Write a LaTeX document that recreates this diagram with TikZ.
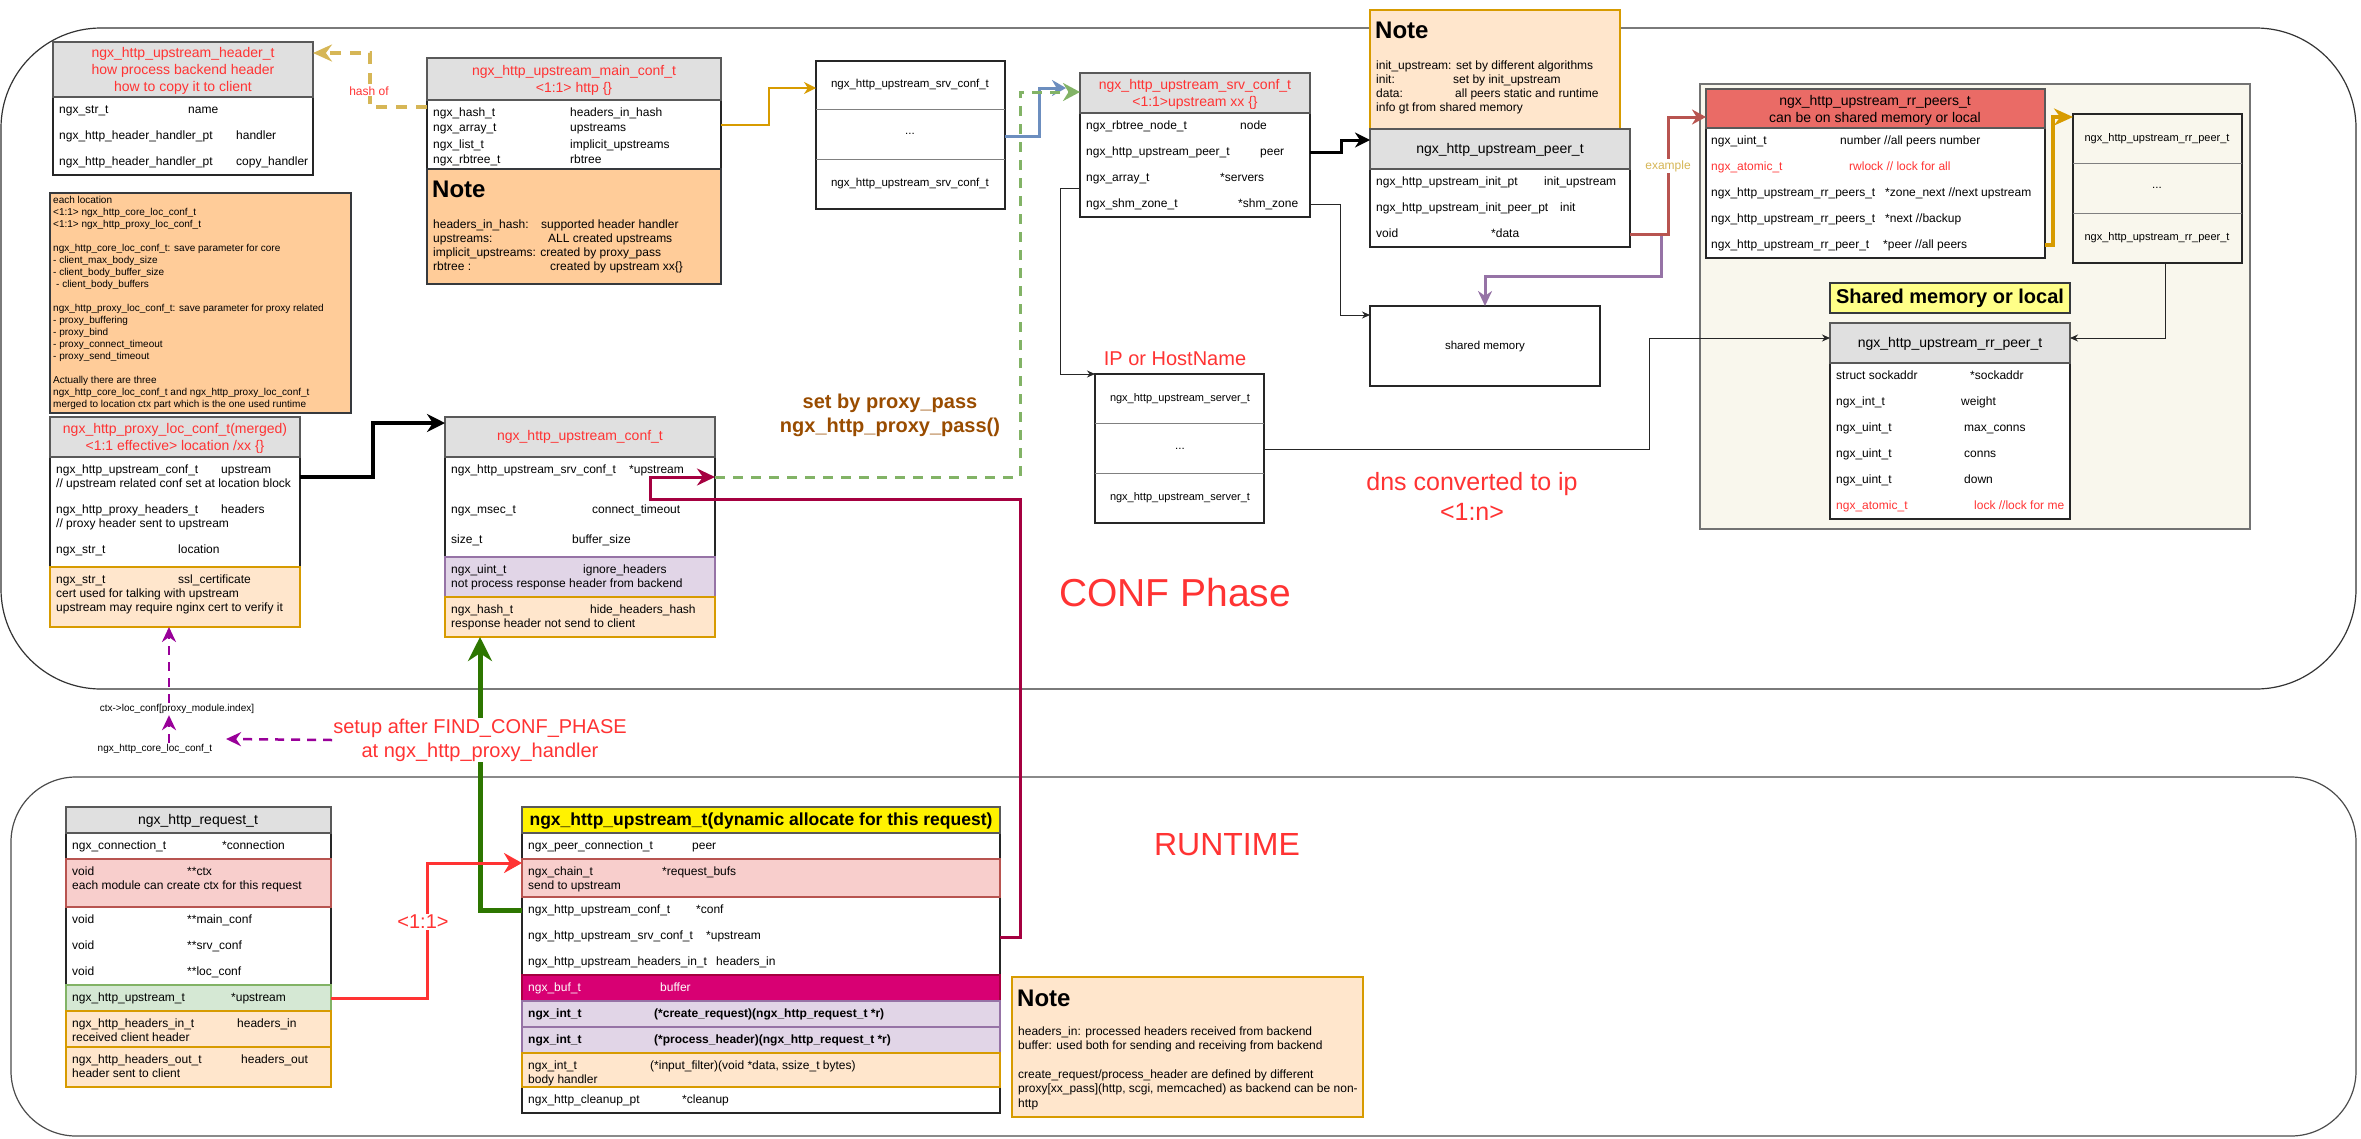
\documentclass[tikz,border=0pt]{standalone}
\usepackage{fontspec}
\setmainfont{Liberation Sans}
\usetikzlibrary{arrows.meta,calc}
\definecolor{cred}{HTML}{FF3333}
\definecolor{ttlgray}{HTML}{E0E0E0}
\definecolor{pinkf}{HTML}{F8CECC}
\definecolor{pinkd}{HTML}{B85450}
\definecolor{oranf}{HTML}{FFE6CC}
\definecolor{orand}{HTML}{D79B00}
\definecolor{purf}{HTML}{E1D5E7}
\definecolor{purd}{HTML}{9673A6}
\definecolor{grnf}{HTML}{D5E8D4}
\definecolor{grnd}{HTML}{82B366}
\definecolor{magf}{HTML}{D80073}
\definecolor{magd}{HTML}{A50040}
\definecolor{notef}{HTML}{FFCC99}
\definecolor{darkd}{HTML}{36393D}
\definecolor{rrred}{HTML}{EA6B66}
\definecolor{beige}{HTML}{F9F7ED}
\definecolor{lyel}{HTML}{FFFF88}
\definecolor{hashc}{HTML}{D6B656}
\definecolor{bluec}{HTML}{6C8EBF}
\definecolor{darkgrn}{HTML}{2D7600}
\definecolor{brownc}{HTML}{994C00}
\definecolor{pdc}{HTML}{990099}
\tikzset{
  bxs/.style={inner sep=0pt,outer sep=0pt,line width=1.3pt},
  wbox/.style={draw=black!85,fill=white},
  tbox/.style={draw=black!65,fill=ttlgray},
  pinks/.style={draw=pinkd,fill=pinkf},
  orans/.style={draw=orand,fill=oranf},
  purs/.style={draw=purd,fill=purf},
  grns/.style={draw=grnd,fill=grnf},
  mags/.style={draw=magd,fill=magf},
  notes/.style={draw=darkd,fill=notef},
  rt/.style={font=\fontsize{12}{14}\selectfont,inner sep=0pt,anchor=west,align=left,execute at begin node=\strut,execute at end node=\strut},
  rtb/.style={rt,font=\fontsize{12}{14}\selectfont\bfseries},
  ttxt/.style={font=\fontsize{14}{16.8}\selectfont,inner sep=0pt,align=center,text=cred},
  ltxt/.style={font=\fontsize{11.5}{14}\selectfont,inner sep=0pt,align=center},
  notehd/.style={font=\fontsize{24}{28}\selectfont\bfseries,inner sep=0pt,anchor=west},
  bigred/.style={font=\fontsize{20}{24}\selectfont,text=cred,inner sep=1pt,align=center},
  smalltxt/.style={font=\fontsize{10}{12}\selectfont,inner sep=0pt,execute at begin node=\strut},
  thinarr/.style={draw=black!85,line width=1pt,-{Stealth[length=8pt,width=7pt]}},
  goldA/.style={draw=orand,line width=2.5pt,-{Stealth[length=12pt,width=12pt]}},
  goldB/.style={draw=orand,line width=4pt,-{Stealth[length=19pt,width=17pt]}},
  hashA/.style={draw=hashc,line width=3.5pt,dash pattern=on 11pt off 9pt,-{Stealth[length=19pt,width=17pt]}},
  blueA/.style={draw=bluec,line width=3pt,-{Stealth[length=14pt,width=16pt]}},
  greenD/.style={draw=grnd,line width=3pt,dash pattern=on 10pt off 8pt,-{Stealth[length=17pt,width=18pt]}},
  blkA/.style={draw=black,line width=4pt,-{Stealth[length=18pt,width=18pt]}},
  blkB/.style={draw=black,line width=3pt,-{Stealth[length=15pt,width=15pt]}},
  crimA/.style={draw=magd,line width=3pt,-{Stealth[length=18pt,width=17pt]}},
  redA/.style={draw=cred,line width=3pt,-{Stealth[length=18pt,width=20pt]}},
  grnA/.style={draw=darkgrn,line width=5pt,-{Stealth[length=24pt,width=24pt]}},
  exA/.style={draw=pinkd,line width=3pt,-{Stealth[length=14pt,width=15pt]}},
  purA/.style={draw=purd,line width=3pt,-{Stealth[length=15pt,width=14pt]}},
  pdash/.style={draw=pdc,line width=2.5pt,dash pattern=on 9pt off 7pt,-{Stealth[length=15pt,width=14pt]}},
  sepl/.style={draw=black!50,line width=1pt}
}
\newcommand\bx[6]{%
  \pgfmathsetmacro\bxw{#4-#2}\pgfmathsetmacro\bxh{#5-#3}%
  \node[bxs,#6,minimum width=\bxw pt,minimum height=\bxh pt,anchor=north west] (#1) at (#2,#3) {};}
\newcommand\rw[7][]{\node[rt,#1] (#2) at (#3,#4) {\makebox[#5pt][l]{#6}#7};}
\newcommand\rwx[8][]{\node[rt,#1] (#2) at (#3,#4) {\makebox[#5pt][l]{#6}#7\\#8};}
\begin{document}
\begin{tikzpicture}[x=1pt,y=-1pt]
\useasboundingbox (0,0) rectangle (2361,1138);
% ---------- containers
\bx{conf}{1}{28}{2356}{689}{draw=black!80,line width=1.2pt,rounded corners=100pt}
\bx{runt}{11}{777}{2356}{1136}{draw=black!70,line width=1.2pt,rounded corners=65pt}
% ---------- header_t
\bx{hdr}{53}{42}{313}{175}{wbox}
\bx{hdrT}{53}{42}{313}{97}{tbox}
\node[ttxt] (hdrt) at (183,71) {ngx\_http\_upstream\_header\_t\\how process backend header\\how to copy it to client};
\rw{h1}{59}{111}{129}{ngx\_str\_t}{name}
\rw{h2}{59}{137}{177}{ngx\_http\_header\_handler\_pt}{handler}
\rw{h3}{59}{163}{177}{ngx\_http\_header\_handler\_pt}{copy\_handler}
% ---------- left note
\bx{lnote}{50}{193}{351}{413}{notes}
\node[rt,font=\fontsize{10}{12}\selectfont] (lnotet) at (53,304) {each location\\<1:1> ngx\_http\_core\_loc\_conf\_t\\<1:1> ngx\_http\_proxy\_loc\_conf\_t\\\mbox{}\\ngx\_http\_core\_loc\_conf\_t: save parameter for core\\- client\_max\_body\_size\\- client\_body\_buffer\_size\\\hspace*{3pt}- client\_body\_buffers\\\mbox{}\\ngx\_http\_proxy\_loc\_conf\_t: save parameter for proxy related\\- proxy\_buffering\\- proxy\_bind\\- proxy\_connect\_timeout\\- proxy\_send\_timeout\\\mbox{}\\Actually there are three\\ngx\_http\_core\_loc\_conf\_t and ngx\_http\_proxy\_loc\_conf\_t\\merged to location ctx part which is the one used runtime};
% ---------- proxy_loc_conf
\bx{plc}{50}{417}{300}{627}{wbox}
\bx{plcT}{50}{417}{300}{457}{tbox}
\bx{plcO}{50}{567}{300}{627}{orans}
\node[ttxt] (plct) at (175,438) {ngx\_http\_proxy\_loc\_conf\_t(merged)\\<1:1 effective> location /xx \{\}};
\rwx{pl1}{56}{478}{165}{ngx\_http\_upstream\_conf\_t}{upstream}{// upstream related conf set at location block}
\rwx{pl2}{56}{518}{165}{ngx\_http\_proxy\_headers\_t}{headers}{// proxy header sent to upstream}
\rw{pl3}{56}{551}{122}{ngx\_str\_t}{location}
\node[rt] (pl4) at (56,595) {\makebox[122pt][l]{ngx\_str\_t}ssl\_certificate\\cert used for talking with upstream\\upstream may require nginx cert to verify it};
% ---------- main_conf
\bx{mc}{427}{58}{721}{284}{wbox}
\bx{mcT}{427}{58}{721}{100}{tbox}
\bx{mcN}{427}{169}{721}{284}{notes}
\node[ttxt] (mct) at (574,80.5) {ngx\_http\_upstream\_main\_conf\_t\\<1:1> http \{\}};
\rw{m1}{433}{114}{137}{ngx\_hash\_t}{headers\_in\_hash}
\rw{m2}{433}{129}{137}{ngx\_array\_t}{upstreams}
\rw{m3}{433}{146}{137}{ngx\_list\_t}{implicit\_upstreams}
\rw{m4}{433}{161}{137}{ngx\_rbtree\_t}{rbtree}
\node[notehd] (mcnh) at (432,189) {Note};
\node[rt] (mcnt) at (433,247) {\makebox[108pt][l]{headers\_in\_hash:}supported header handler\\\makebox[115pt][l]{upstreams:}ALL created upstreams\\implicit\_upstreams: created by proxy\_pass\\\makebox[117pt][l]{rbtree :}created by upstream xx\{\}};
% ---------- srv conf list
\bx{srvl}{816}{61}{1005}{209}{wbox}
\draw[sepl] (srvl.west |- 0,109) -- (srvl.east |- 0,109);
\draw[sepl] (srvl.west |- 0,159) -- (srvl.east |- 0,159);
\node[ltxt] (sl1) at (910,85) {ngx\_http\_upstream\_srv\_conf\_t};
\node[ltxt] (sl2) at (910,134) {...};
\node[ltxt] (sl3) at (910,184) {ngx\_http\_upstream\_srv\_conf\_t};
% ---------- upstream_conf
\bx{upc}{445}{417}{715}{637}{wbox}
\bx{upcT}{445}{417}{715}{457}{tbox}
\bx{upcP}{445}{557}{715}{597}{purs}
\bx{upcO}{445}{597}{715}{637}{orans}
\node[ttxt] (upct) at (580,437) {ngx\_http\_upstream\_conf\_t};
\rw{u1}{451}{471}{178}{ngx\_http\_upstream\_srv\_conf\_t}{*upstream}
\rw{u2}{451}{511}{141}{ngx\_msec\_t}{connect\_timeout}
\rw{u3}{451}{541}{121}{size\_t}{buffer\_size}
\rwx{u4}{451}{578}{132}{ngx\_uint\_t}{ignore\_headers}{not process response header from backend}
\rwx{u5}{451}{618}{139}{ngx\_hash\_t}{hide\_headers\_hash}{response header not send to client}
% ---------- srv_conf_t
\bx{srvc}{1080}{73}{1310}{217}{wbox}
\bx{srvcT}{1080}{73}{1310}{113}{tbox}
\node[ttxt] (srvct) at (1195,94.5) {ngx\_http\_upstream\_srv\_conf\_t\\<1:1>upstream xx \{\}};
\rw{s1}{1086}{127}{154}{ngx\_rbtree\_node\_t}{node}
\rw{s2}{1086}{153}{174}{ngx\_http\_upstream\_peer\_t}{peer}
\rw{s3}{1086}{179}{134}{ngx\_array\_t}{*servers}
\rw{s4}{1086}{205}{152}{ngx\_shm\_zone\_t}{*shm\_zone}
% ---------- top note
\bx{tnote}{1370}{10}{1620}{129}{orans}
\node[notehd] (tnh) at (1375,30) {Note};
\node[rt] (tnt) at (1376,88) {init\_upstream: set by different algorithms\\\makebox[77pt][l]{init:}set by init\_upstream\\\makebox[79pt][l]{data:}all peers static and runtime\\info gt from shared memory};
% ---------- peer_t
\bx{peer}{1370}{129}{1630}{247}{wbox}
\bx{peerT}{1370}{129}{1630}{169}{tbox}
\node[ttxt,text=black] (peert) at (1500,150) {ngx\_http\_upstream\_peer\_t};
\rw{p1}{1376}{183}{168}{ngx\_http\_upstream\_init\_pt}{init\_upstream}
\rw{p2}{1376}{209}{184}{ngx\_http\_upstream\_init\_peer\_pt}{init}
\rw{p3}{1376}{235}{115}{void}{*data}
% ---------- shared memory
\bx{shm}{1370}{306}{1600}{386}{wbox}
\node[ltxt] (shmt) at (1485,347) {shared memory};
% ---------- server list
\bx{srvr}{1095}{374}{1264}{523}{wbox}
\draw[sepl] (srvr.west |- 0,423) -- (srvr.east |- 0,423);
\draw[sepl] (srvr.west |- 0,473) -- (srvr.east |- 0,473);
\node[ltxt,font=\fontsize{11}{13}\selectfont] (sv1) at (1180,399) {ngx\_http\_upstream\_server\_t};
\node[ltxt] (sv2) at (1180,449) {...};
\node[ltxt,font=\fontsize{11}{13}\selectfont] (sv3) at (1180,498) {ngx\_http\_upstream\_server\_t};
\node[bigred] (iph) at (1175,359) {IP or HostName};
% ---------- shared/local container
\bx{shbg}{1700}{84}{2250}{529}{draw=black!55,fill=beige}
\bx{rrs}{1706}{89}{2045}{258}{wbox}
\bx{rrsT}{1706}{89}{2045}{128}{draw=black!65,fill=rrred}
\node[ttxt,text=black] (rrst) at (1875,110) {ngx\_http\_upstream\_rr\_peers\_t\\can be on shared memory or local};
\rw{r1}{1711}{142}{129}{ngx\_uint\_t}{number //all peers number}
\rw[text=cred]{r2}{1711}{168}{138}{ngx\_atomic\_t}{rwlock // lock for all}
\rw{r3}{1711}{194}{174}{ngx\_http\_upstream\_rr\_peers\_t}{*zone\_next //next upstream}
\rw{r4}{1711}{220}{174}{ngx\_http\_upstream\_rr\_peers\_t}{*next //backup}
\rw{r5}{1711}{246}{172}{ngx\_http\_upstream\_rr\_peer\_t}{*peer //all peers}
\bx{rrl}{2073}{114}{2242}{263}{draw=black!85}
\draw[sepl] (rrl.west |- 0,163) -- (rrl.east |- 0,163);
\draw[sepl] (rrl.west |- 0,213) -- (rrl.east |- 0,213);
\node[ltxt,font=\fontsize{11}{13}\selectfont] (rl1) at (2157,139) {ngx\_http\_upstream\_rr\_peer\_t};
\node[ltxt] (rl2) at (2157,188) {...};
\node[ltxt,font=\fontsize{11}{13}\selectfont] (rl3) at (2157,238) {ngx\_http\_upstream\_rr\_peer\_t};
\bx{sml}{1830}{283}{2070}{313}{draw=darkd,fill=lyel}
\node[font=\fontsize{20}{24}\selectfont\bfseries,inner sep=0pt] (smlt) at (sml.center) {Shared memory or local};
\bx{rrp}{1830}{323}{2070}{519}{wbox}
\bx{rrpT}{1830}{323}{2070}{363}{tbox}
\node[ttxt,text=black] (rrpt) at (1950,344) {ngx\_http\_upstream\_rr\_peer\_t};
\rw{q1}{1836}{377}{134}{struct sockaddr}{*sockaddr}
\rw{q2}{1836}{403}{125}{ngx\_int\_t}{weight}
\rw{q3}{1836}{429}{128}{ngx\_uint\_t}{max\_conns}
\rw{q4}{1836}{455}{128}{ngx\_uint\_t}{conns}
\rw{q5}{1836}{481}{128}{ngx\_uint\_t}{down}
\rw[text=cred]{q6}{1836}{507}{138}{ngx\_atomic\_t}{lock //lock for me}
% ---------- request_t
\bx{req}{66}{807}{331}{1087}{wbox}
\bx{reqT}{66}{807}{331}{833}{tbox}
\bx{reqP}{66}{859}{331}{907}{pinks}
\bx{reqG}{66}{985}{331}{1011}{grns}
\bx{reqO1}{66}{1011}{331}{1047}{orans}
\bx{reqO2}{66}{1047}{331}{1087}{orans}
\node[ttxt,text=black] (reqt) at (198,821) {ngx\_http\_request\_t};
\rw{rq1}{72}{847}{150}{ngx\_connection\_t}{*connection}
\rwx{rq2}{72}{880}{115}{void}{**ctx}{each module can create ctx for this request}
\rw{rq3}{72}{921}{115}{void}{**main\_conf}
\rw{rq4}{72}{947}{115}{void}{**srv\_conf}
\rw{rq5}{72}{973}{115}{void}{**loc\_conf}
\rw{rq6}{72}{999}{159}{ngx\_http\_upstream\_t}{*upstream}
\rwx{rq7}{72}{1032}{165}{ngx\_http\_headers\_in\_t}{headers\_in}{received client header}
\rwx{rq8}{72}{1068}{169}{ngx\_http\_headers\_out\_t}{headers\_out}{header sent to client}
% ---------- upstream_t
\bx{ups}{522}{807}{1000}{1113}{wbox}
\bx{upsT}{522}{807}{1000}{833}{draw=black!65,fill=yellow}
\bx{upsP}{522}{859}{1000}{897}{pinks}
\bx{upsM}{522}{975}{1000}{1001}{mags}
\bx{upsU1}{522}{1001}{1000}{1027}{purs}
\bx{upsU2}{522}{1027}{1000}{1053}{purs}
\bx{upsO}{522}{1053}{1000}{1087}{orans}
\node[font=\fontsize{17.5}{20}\selectfont\bfseries,inner sep=0pt] (upst) at (761,821) {ngx\_http\_upstream\_t(dynamic allocate for this request)};
\rw{ut1}{528}{847}{164}{ngx\_peer\_connection\_t}{peer}
\rwx{ut2}{528}{880}{134}{ngx\_chain\_t}{*request\_bufs}{send to upstream}
\rw{ut3}{528}{911}{168}{ngx\_http\_upstream\_conf\_t}{*conf}
\rw{ut4}{528}{937}{178}{ngx\_http\_upstream\_srv\_conf\_t}{*upstream}
\rw{ut5}{528}{963}{188}{ngx\_http\_upstream\_headers\_in\_t}{headers\_in}
\rw[text=white]{ut6}{528}{989}{132}{ngx\_buf\_t}{buffer}
\rw[rtb]{ut7}{528}{1015}{126}{ngx\_int\_t}{(*create\_request)(ngx\_http\_request\_t *r)}
\rw[rtb]{ut8}{528}{1041}{126}{ngx\_int\_t}{(*process\_header)(ngx\_http\_request\_t *r)}
\rwx{ut9}{528}{1074}{122}{ngx\_int\_t}{(*input\_filter)(void *data, ssize\_t bytes)}{body handler}
\rw{ut10}{528}{1101}{154}{ngx\_http\_cleanup\_pt}{*cleanup}
% ---------- bottom note
\bx{bnote}{1012}{977}{1363}{1117}{orans}
\node[notehd] (bnh) at (1017,998) {Note};
\node[rt,font=\fontsize{12}{14.4}\selectfont] (bnt) at (1018,1069) {headers\_in: processed headers received from backend\\buffer: used both for sending and receiving from backend\\\mbox{}\\create\_request/process\_header are defined by different\\proxy[xx\_pass](http, scgi, memcached) as backend can be non-\\http};
% ---------- free labels
\node[font=\fontsize{39}{46}\selectfont,text=cred,inner sep=0pt] (confp) at (1175,593) {CONF Phase};
\node[font=\fontsize{32}{38}\selectfont,text=cred,inner sep=0pt] (rtm) at (1227,845) {RUNTIME};
\node[font=\fontsize{20}{24}\selectfont\bfseries,text=brownc,align=center,inner sep=0pt] (spp) at (890,415) {set by proxy\_pass\\ngx\_http\_proxy\_pass()};
\node[font=\fontsize{25}{30}\selectfont,text=cred,inner sep=0pt,align=center] (dnsl) at (1472,496) {dns converted to ip\\<1:n>};
\node[smalltxt] (ctx) at (177,709) {ctx->loc\_conf[proxy\_module.index]};
\node[smalltxt] (core) at (155,749) {ngx\_http\_core\_loc\_conf\_t};
\coordinate (pd) at (226,739);
% ---------- connectors
\draw[hashA] (mc.west |- 0,107) -- (370,107) -- (370,53) -- (hdr.east |- 0,53);
\node[font=\fontsize{12}{14}\selectfont,text=cred,fill=white,inner sep=1pt] (hof) at (369,91) {hash of};
\draw[goldA] (mc.east |- 0,125) -- (769,125) -- (769,88) -- (srvl.west |- 0,88);
\draw[blueA] (srvl.east |- 0,136) -- (1039,136) -- (1039,88) -- ($(srvc.west |- 0,88)+(-14,0)$);
\draw[greenD] (upc.east |- 0,477) -- (1020,477) -- (1020,92) -- (srvc.west |- 0,92);
\draw[blkA] (plc.east |- 0,477) -- (373,477) -- (373,423) -- (upc.west |- 0,423);
\draw[crimA] (ups.east |- 0,937) -- (1020,937) -- (1020,499) -- (650,499) -- (650,477) -- (upc.east |- 0,477);
\draw[blkB] (srvc.east |- 0,152) -- (1341,152) -- (1341,140) -- (peer.west |- 0,140);
\draw[thinarr] (srvc.east |- 0,204) -- (1340,204) -- (1340,315) -- (shm.west |- 0,315);
\draw[thinarr] (srvc.west |- 0,188) -- (1060,188) -- (1060,374) -- (srvr.north west);
\draw[purA] (peer.east |- 0,234) -- (1661,234) -- (1661,276) -- (1485,276) -- (shm.north);
\draw[exA] (peer.east |- 0,234) -- (1668,234) -- (1668,117) -- (rrs.west |- 0,117);
\node[font=\fontsize{12}{14}\selectfont,text=hashc,fill=white,inner sep=1pt] (exl) at (1668,166) {example};
\draw[thinarr] (srvr.east |- 0,449) -- (1649,449) -- (1649,338) -- (rrp.west |- 0,338);
\draw[goldB] (rrs.east |- 0,245) -- (2053,245) -- (2053,117) -- (rrl.west |- 0,117);
\draw[thinarr] (rrl.south -| 2165,0) -- (2165,338) -- (rrp.east |- 0,338);
\draw[grnA] (ups.west |- 0,910) -- (480,910) -- (upc.south -| 480,0);
\draw[redA] (req.east |- 0,998) -- (427,998) -- (427,863) -- (ups.west |- 0,863);
\node[bigred,fill=white] (l11) at (423,922) {<1:1>};
\node[bigred,fill=white] (setup) at (480,740) {setup after FIND\_CONF\_PHASE\\at ngx\_http\_proxy\_handler};
\draw[pdash] (setup.west) -- (pd);
\draw[pdash] (core.north -| 169,0) -- (ctx.south -| 169,0);
\draw[pdash] (ctx.north -| 169,0) -- (plc.south -| 169,0);
\end{tikzpicture}
\end{document}
